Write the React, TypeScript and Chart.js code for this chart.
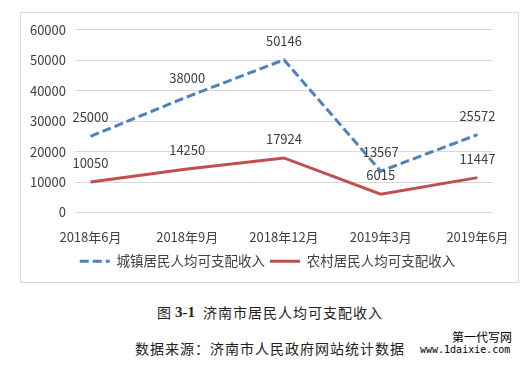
import React, { useEffect, useRef } from "react";
import { Chart, registerables } from "chart.js";

Chart.register(...registerables);

const categories = ["2018年6月", "2018年9月", "2018年12月", "2019年3月", "2019年6月"];
const urbanIncome = [25000, 38000, 50146, 13567, 25572];
const ruralIncome = [10050, 14250, 17924, 6015, 11447];
const seriesNames = ["城镇居民人均可支配收入", "农村居民人均可支配收入"];
const yTicks = [0, 10000, 20000, 30000, 40000, 50000, 60000];

const FONT = "'Noto Sans CJK SC', 'Open Sans', sans-serif";
const URBAN_DASH = [9, 4];

const dataLabelPlugin = {
  id: "dataLabels",
  afterDatasetsDraw(chart: any) {
    const ctx = chart.ctx;
    ctx.save();
    ctx.font = `13px ${FONT}`;
    ctx.fillStyle = "#404040";
    ctx.textAlign = "center";
    ctx.textBaseline = "middle";
    chart.data.datasets.forEach((ds: any, i: number) => {
      const meta = chart.getDatasetMeta(i);
      meta.data.forEach((pt: any, j: number) => {
        ctx.fillText(String(ds.data[j].y), pt.x, pt.y - 19);
      });
    });
    ctx.restore();
  },
};

const legendShiftPlugin = {
  id: "legendShift",
  afterLayout(chart: any) {
    if (chart.legend) {
      chart.legend.left += 5;
      chart.legend.right += 5;
    }
  },
};

export default function App() {
  const ref = useRef<HTMLCanvasElement | null>(null);
  useEffect(() => {
    if (!ref.current) return;
    const chart = new Chart(ref.current, {
      type: "line",
      data: {
        datasets: [
          {
            label: seriesNames[0],
            data: urbanIncome.map((v, i) => ({ x: i, y: v })),
            borderColor: "#4F81BD",
            backgroundColor: "#4F81BD",
            borderWidth: 3,
            borderDash: URBAN_DASH,
            pointRadius: 0,
            fill: false,
            tension: 0,
          },
          {
            label: seriesNames[1],
            data: ruralIncome.map((v, i) => ({ x: i, y: v })),
            borderColor: "#C0504D",
            backgroundColor: "#C0504D",
            borderWidth: 3,
            pointRadius: 0,
            fill: false,
            tension: 0,
          },
        ],
      },
      options: {
        animation: false,
        responsive: false,
        maintainAspectRatio: false,
        layout: { padding: { top: 14, right: 14, bottom: 4, left: 0 } },
        plugins: {
          tooltip: { enabled: false },
          legend: {
            position: "bottom",
            labels: {
              usePointStyle: true,
              pointStyle: "line",
              pointStyleWidth: 30,
              boxHeight: 13,
              padding: 5,
              color: "#404040",
              font: { family: FONT, size: 13.5 },
              generateLabels: (c: any) => {
                const items = Chart.defaults.plugins.legend.labels.generateLabels(c);
                items.forEach((it: any, i: number) => {
                  const ds = c.data.datasets[i];
                  it.strokeStyle = ds.borderColor;
                  it.lineWidth = 3;
                  it.lineDash = ds.borderDash || [];
                  it.pointStyle = "line";
                });
                return items;
              },
            },
          },
        },
        scales: {
          x: {
            type: "linear",
            min: -0.16,
            max: 4.16,
            grid: { display: false },
            border: { display: false },
            afterFit: (s: any) => {
              s.height = 37;
            },
            ticks: {
              stepSize: 1,
              includeBounds: false,
              autoSkip: false,
              maxRotation: 0,
              padding: 9,
              color: "#404040",
              font: { family: FONT, size: 13 },
              callback: (v: any) => (Number.isInteger(v) ? categories[v] : ""),
            },
          },
          y: {
            min: yTicks[0],
            max: yTicks[yTicks.length - 1],
            grid: { color: "#d9d9d9", drawTicks: false, lineWidth: 1 },
            border: { display: false },
            afterFit: (s: any) => {
              s.width = 54;
            },
            ticks: {
              stepSize: 10000,
              padding: 9,
              color: "#404040",
              font: { family: FONT, size: 13 },
              callback: (v: any) => String(v),
            },
          },
        },
      },
      plugins: [dataLabelPlugin, legendShiftPlugin],
    } as any);
    return () => chart.destroy();
  }, []);

  const serif = "'Liberation Serif', 'Noto Sans CJK SC', serif";
  const cjk = "'Noto Sans CJK SC', serif";
  const textColor = "#222";
  return (
    <div style={{ position: "absolute", left: 0, top: 0, width: 524, height: 365, background: "#fff" }}>
      <div
        style={{
          position: "absolute",
          left: 20,
          top: 12,
          width: 499,
          height: 271,
          boxSizing: "border-box",
          border: "1px solid #d9d9d9",
        }}
      >
        <canvas ref={ref} width={497} height={269} style={{ display: "block", width: 497, height: 269 }} />
      </div>
      <div style={{ position: "absolute", left: 157, top: 304, fontSize: 14, lineHeight: "16px", whiteSpace: "nowrap", color: textColor, fontFamily: cjk }}>图</div>
      <div style={{ position: "absolute", left: 175, top: 304, fontSize: 15, lineHeight: "16px", whiteSpace: "nowrap", color: textColor, fontFamily: serif, fontWeight: "bold" }}>3-1</div>
      <div style={{ position: "absolute", left: 203, top: 304, fontSize: 14, lineHeight: "16px", letterSpacing: 1, whiteSpace: "nowrap", color: textColor, fontFamily: cjk }}>济南市居民人均可支配收入</div>
      <div style={{ position: "absolute", left: 135, top: 340, fontSize: 14, lineHeight: "16px", letterSpacing: 1, whiteSpace: "nowrap", color: textColor, fontFamily: cjk }}>数据来源：济南市人民政府网站统计数据</div>
      <div style={{ position: "absolute", left: 452, top: 330, fontSize: 12, lineHeight: "14px", whiteSpace: "nowrap", color: "#000", fontFamily: cjk }}>第一代写网</div>
      <div style={{ position: "absolute", left: 420, top: 344, fontSize: 10, lineHeight: "12px", whiteSpace: "nowrap", color: "#000", fontFamily: "'DejaVu Sans Mono', monospace" }}>www.1daixie.com</div>
    </div>
  );
}
